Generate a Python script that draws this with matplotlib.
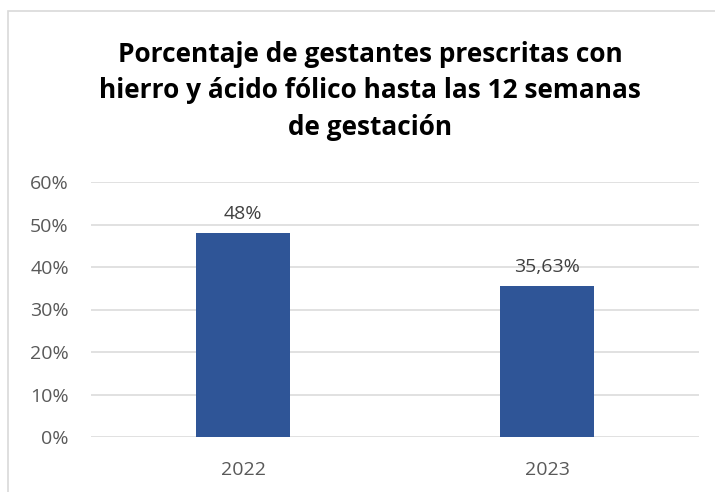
import matplotlib.pyplot as plt
from matplotlib.patches import Rectangle
from matplotlib.ticker import PercentFormatter

years = ['2022', '2023']
values = [48, 35.63]
value_labels = ['48%', '35,63%']
yticks = [0, 10, 20, 30, 40, 50, 60]
title = 'Porcentaje de gestantes prescritas con\nhierro y ácido fólico hasta las 12 semanas\nde gestación'

plt.rcParams['font.family'] = ['Open Sans', 'DejaVu Sans']

fig = plt.figure(figsize=(7.15, 4.92), dpi=100)
ax = fig.add_axes([91/715, 1-437/492, 608/715, 255/492])

x = list(range(len(years)))
bars = ax.bar(x, values, width=0.31, color='#2F5597', zorder=3)
for b, lab in zip(bars, value_labels):
    ax.annotate(lab, (b.get_x() + b.get_width()/2, b.get_height()),
                xytext=(0, 7), textcoords='offset points',
                ha='center', va='bottom', fontsize=14, color='#404040')

ax.set_xlim(-0.5, 1.5)
ax.set_ylim(0, 60)
ax.set_yticks(yticks)
ax.yaxis.set_major_formatter(PercentFormatter(decimals=0))
ax.set_xticks(x)
ax.set_xticklabels(years)
ax.tick_params(axis='both', length=0, labelsize=14, labelcolor='#595959')
ax.tick_params(axis='y', pad=16)
ax.tick_params(axis='x', pad=17)
ax.grid(axis='y', color='#D9D9D9', linewidth=1.1, zorder=0)
for s in ax.spines.values():
    s.set_visible(False)

fig.text(370/715, 1-91/492, title, ha='center', va='center',
         fontsize=18.9, fontweight='bold', color='#000000', linespacing=1.45)

fig.add_artist(Rectangle((8/715, -0.1), 1.0, 1.1 - 11/492, transform=fig.transFigure,
                         facecolor='none', edgecolor='#D9D9D9', linewidth=1.2))

fig.savefig('out.png', dpi=100)
